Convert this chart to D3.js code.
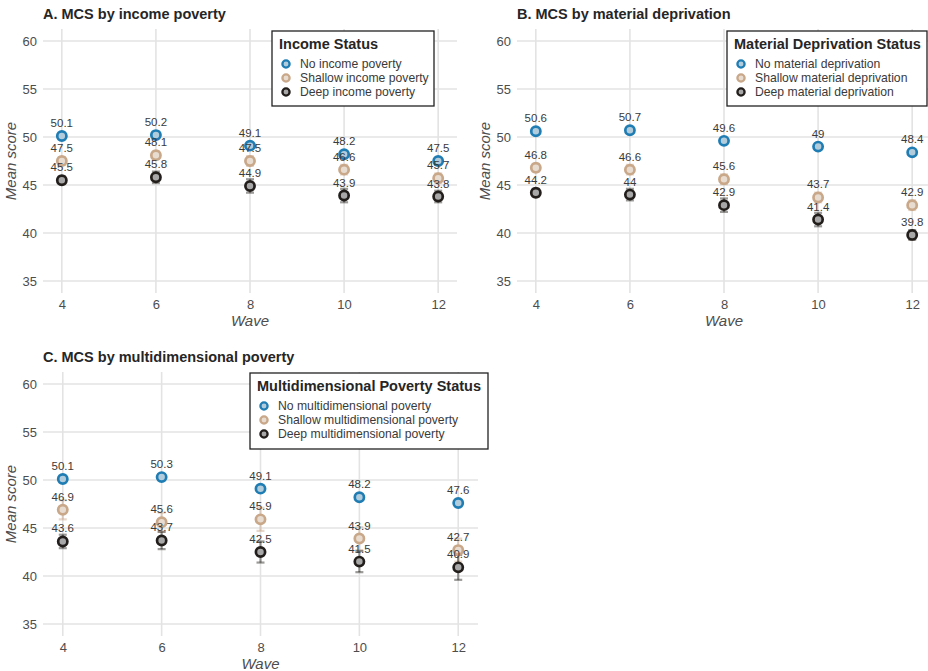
<!DOCTYPE html>
<html>
<head>
<meta charset="utf-8">
<script src="https://cdn.jsdelivr.net/npm/d3@7"></script>
<style>
  html, body { margin: 0; padding: 0; background: #fff; }
  svg { display: block; font-family: "Liberation Sans", Arial, sans-serif; }
</style>
</head>
<body>
<svg id="chart" width="928" height="671"></svg>
<script>
// Survey waves and y-axis ticks shared by all three panels
const waves = [4, 6, 8, 10, 12];
const yTicks = [35, 40, 45, 50, 55, 60];

// Panel A: mean MCS score by income poverty status (mean and 95% CI half-width)
const incomeGroups = ["No income poverty", "Shallow income poverty", "Deep income poverty"];
const incomeNo = [50.1, 50.2, 49.1, 48.2, 47.5];
const incomeShallow = [47.5, 48.1, 47.5, 46.6, 45.7];
const incomeDeep = [45.5, 45.8, 44.9, 43.9, 43.8];
const incomeNoCI = [0.15, 0.15, 0.15, 0.15, 0.15];
const incomeShallowCI = [0.4, 0.4, 0.5, 0.5, 0.5];
const incomeDeepCI = [0.4, 0.6, 0.7, 0.7, 0.6];

// Panel B: mean MCS score by material deprivation status
const materialGroups = ["No material deprivation", "Shallow material deprivation", "Deep material deprivation"];
const materialNo = [50.6, 50.7, 49.6, 49.0, 48.4];
const materialShallow = [46.8, 46.6, 45.6, 43.7, 42.9];
const materialDeep = [44.2, 44.0, 42.9, 41.4, 39.8];
const materialNoCI = [0.15, 0.15, 0.15, 0.15, 0.15];
const materialShallowCI = [0.4, 0.5, 0.5, 0.5, 0.5];
const materialDeepCI = [0.4, 0.6, 0.7, 0.7, 0.5];

// Panel C: mean MCS score by multidimensional poverty status
const multiGroups = ["No multidimensional poverty", "Shallow multidimensional poverty", "Deep multidimensional poverty"];
const multiNo = [50.1, 50.3, 49.1, 48.2, 47.6];
const multiShallow = [46.9, 45.6, 45.9, 43.9, 42.7];
const multiDeep = [43.6, 43.7, 42.5, 41.5, 40.9];
const multiNoCI = [0.15, 0.15, 0.15, 0.15, 0.15];
const multiShallowCI = [1.0, 1.0, 1.2, 1.2, 1.2];
const multiDeepCI = [0.7, 0.9, 1.1, 1.1, 1.3];

// Group styling: ring colour and inner fill
const ringColors = ["#1f7db4", "#c9a789", "#221e1b"];
const fillColors = ["#b3ccdc", "#e8dcd0", "#a8a8a8"];

const svg = d3.select("#chart");

function drawPanel(cfg) {
  const x = d3.scaleLinear().domain([3.6, 12.4]).range([cfg.left, cfg.right]);
  const y = d3.scaleLinear().domain([33.75, 61.25]).range([cfg.bottom, cfg.top]);
  const g = svg.append("g");

  // Gridlines
  g.selectAll(".hgrid").data(yTicks).join("line")
    .attr("x1", cfg.left).attr("x2", cfg.right)
    .attr("y1", d => y(d)).attr("y2", d => y(d))
    .attr("stroke", "#e3e3e3").attr("stroke-width", 1.6);
  g.selectAll(".vgrid").data(waves).join("line")
    .attr("x1", d => x(d)).attr("x2", d => x(d))
    .attr("y1", cfg.top).attr("y2", cfg.bottom)
    .attr("stroke", "#e3e3e3").attr("stroke-width", 1.6);

  // Axes (text only, minimal theme)
  const yAxis = g.append("g").attr("transform", `translate(${cfg.left},0)`)
    .call(d3.axisLeft(y).tickValues(yTicks).tickSize(0).tickPadding(6));
  const xAxis = g.append("g").attr("transform", `translate(0,${cfg.bottom})`)
    .call(d3.axisBottom(x).tickValues(waves).tickSize(0).tickPadding(7));
  [yAxis, xAxis].forEach(a => {
    a.select(".domain").remove();
    a.selectAll("text").attr("fill", "#4d4d4d").style("font-size", "13px")
      .style("font-family", "'Liberation Sans', Arial, sans-serif");
  });

  // Axis titles
  g.append("text")
    .attr("x", (cfg.left + cfg.right) / 2).attr("y", cfg.bottom + 33)
    .attr("text-anchor", "middle").attr("fill", "#4d4d4d")
    .style("font-size", "15px").style("font-style", "italic").text("Wave");
  g.append("text")
    .attr("transform", `translate(${cfg.left - 27},${(cfg.top + cfg.bottom) / 2}) rotate(-90)`)
    .attr("text-anchor", "middle").attr("fill", "#4d4d4d")
    .style("font-size", "15px").style("font-style", "italic").text("Mean score");

  // Panel title
  g.append("text")
    .attr("x", cfg.left).attr("y", cfg.top - 10)
    .attr("fill", "#262626").style("font-size", "14.5px").style("font-weight", "bold")
    .text(cfg.title);

  // Error bars
  cfg.series.forEach((s, gi) => {
    const rows = waves.map((w, i) => ({ w, m: s.mean[i], ci: s.ci[i] }));
    const eb = g.append("g").attr("stroke", ringColors[gi]).attr("stroke-opacity", 0.45)
      .attr("stroke-width", 2.2);
    eb.selectAll(".v").data(rows).join("line")
      .attr("x1", d => x(d.w)).attr("x2", d => x(d.w))
      .attr("y1", d => y(d.m - d.ci)).attr("y2", d => y(d.m + d.ci));
    eb.selectAll(".lo").data(rows).join("line")
      .attr("x1", d => x(d.w) - 4).attr("x2", d => x(d.w) + 4)
      .attr("y1", d => y(d.m - d.ci)).attr("y2", d => y(d.m - d.ci));
    eb.selectAll(".hi").data(rows).join("line")
      .attr("x1", d => x(d.w) - 4).attr("x2", d => x(d.w) + 4)
      .attr("y1", d => y(d.m + d.ci)).attr("y2", d => y(d.m + d.ci));
  });
  // Points
  cfg.series.forEach((s, gi) => {
    const rows = waves.map((w, i) => ({ w, m: s.mean[i] }));
    g.append("g").selectAll("circle").data(rows).join("circle")
      .attr("cx", d => x(d.w)).attr("cy", d => y(d.m)).attr("r", 4.6)
      .attr("fill", fillColors[gi]).attr("stroke", ringColors[gi]).attr("stroke-width", 2.7);
  });
  // Value labels
  cfg.series.forEach((s, gi) => {
    const rows = waves.map((w, i) => ({ w, m: s.mean[i] }));
    g.append("g").selectAll("text").data(rows).join("text")
      .attr("x", d => x(d.w)).attr("y", d => y(d.m) - 9)
      .attr("text-anchor", "middle").attr("fill", "#3a3a3a")
      .style("font-size", "11.5px")
      .text(d => d3.format("")(d.m));
  });

  // Legend
  const L = cfg.legend;
  const lg = g.append("g");
  lg.append("rect").attr("x", L.x).attr("y", L.y).attr("width", L.w).attr("height", L.h)
    .attr("fill", "#fff").attr("stroke", "#222").attr("stroke-width", 1.3);
  lg.append("text").attr("x", L.x + 7).attr("y", L.y + 18)
    .attr("fill", "#262626").style("font-size", "14.5px").style("font-weight", "bold")
    .text(cfg.legendTitle);
  cfg.groups.forEach((name, gi) => {
    const cy = L.y + 33 + gi * 14;
    lg.append("circle").attr("cx", L.x + 14).attr("cy", cy).attr("r", 3.6)
      .attr("fill", fillColors[gi]).attr("stroke", ringColors[gi]).attr("stroke-width", 2.3);
    lg.append("text").attr("x", L.x + 28).attr("y", cy + 4.2)
      .attr("fill", "#3a3a3a").style("font-size", "12.2px").text(name);
  });
}

drawPanel({
  title: "A. MCS by income poverty",
  left: 43, right: 457, top: 29, bottom: 293,
  groups: incomeGroups, legendTitle: "Income Status",
  legend: { x: 272, y: 31, w: 162, h: 75 },
  series: [
    { mean: incomeNo, ci: incomeNoCI },
    { mean: incomeShallow, ci: incomeShallowCI },
    { mean: incomeDeep, ci: incomeDeepCI }
  ]
});

drawPanel({
  title: "B. MCS by material deprivation",
  left: 517, right: 931, top: 29, bottom: 293,
  groups: materialGroups, legendTitle: "Material Deprivation Status",
  legend: { x: 727, y: 31, w: 200, h: 75 },
  series: [
    { mean: materialNo, ci: materialNoCI },
    { mean: materialShallow, ci: materialShallowCI },
    { mean: materialDeep, ci: materialDeepCI }
  ]
});

drawPanel({
  title: "C. MCS by multidimensional poverty",
  left: 43, right: 478, top: 372, bottom: 636,
  groups: multiGroups, legendTitle: "Multidimensional Poverty Status",
  legend: { x: 250, y: 373, w: 238, h: 76 },
  series: [
    { mean: multiNo, ci: multiNoCI },
    { mean: multiShallow, ci: multiShallowCI },
    { mean: multiDeep, ci: multiDeepCI }
  ]
});
</script>
</body>
</html>
